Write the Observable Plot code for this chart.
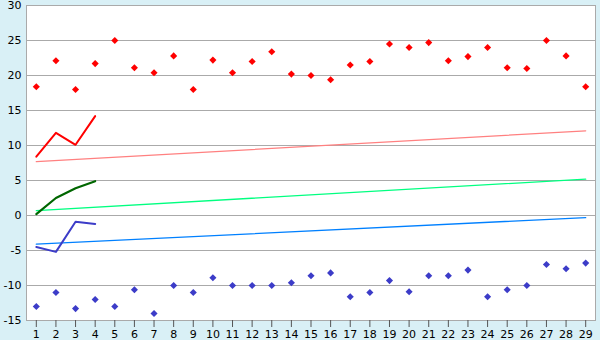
<!DOCTYPE html>
<html><head><meta charset="utf-8">
<script src="https://cdn.jsdelivr.net/npm/d3@7"></script>
<script src="https://cdn.jsdelivr.net/npm/@observablehq/plot@0.6"></script>
<style>html,body{margin:0;padding:0;background:#d9f0f6;}</style>
</head><body><div id="chart"></div>
<script>
const days = [1,2,3,4,5,6,7,8,9,10,11,12,13,14,15,16,17,18,19,20,21,22,23,24,25,26,27,28,29];
const yTicks = [-15,-10,-5,0,5,10,15,20,25,30];
const maxVals = [18.4,22.1,18.0,21.7,25.0,21.1,20.4,22.8,18.0,22.2,20.4,22.0,23.4,20.2,20.0,19.4,21.5,22.0,24.5,24.0,24.7,22.1,22.7,24.0,21.1,21.0,25.0,22.8,18.4];
const minVals = [-13.0,-11.0,-13.3,-12.0,-13.0,-10.6,-14.0,-10.0,-11.0,-8.9,-10.0,-10.0,-10.0,-9.6,-8.6,-8.2,-11.6,-11.0,-9.3,-10.9,-8.6,-8.6,-7.8,-11.6,-10.6,-10.0,-7.0,-7.6,-6.8];
const lineDays = [1,2,3,4];
const redLine = [8.4,11.8,10.1,14.2];
const greenLine = [0.2,2.5,3.9,4.9];
const blueLine = [-4.5,-5.2,-0.9,-1.2];
const trendDays = [1,29];
const redTrend = [7.7,12.1];
const greenTrend = [0.7,5.2];
const blueTrend = [-4.1,-0.3];

const pts = (xs, ys) => xs.map((x,i)=>({x, y: ys[i]}));

const chart = Plot.plot({
  width: 600, height: 340,
  marginLeft: 26, marginRight: 5, marginTop: 5, marginBottom: 20,
  style: {background: "#d9f0f6", fontFamily: "DejaVu Sans, Verdana, sans-serif", fontSize: "11px", color: "#000"},
  x: {domain: [0.5, 29.5], label: null},
  y: {domain: [-15, 30], label: null},
  marks: [
    Plot.frame({fill: "white"}),
    Plot.gridY(yTicks, {stroke: "#aaaaaa", strokeOpacity: 1}),
    Plot.frame({stroke: "#aaaaaa"}),
    Plot.line(pts(trendDays, redTrend), {x: "x", y: "y", stroke: "#ff8080", strokeWidth: 1.3}),
    Plot.line(pts(trendDays, greenTrend), {x: "x", y: "y", stroke: "#00ff80", strokeWidth: 1.3}),
    Plot.line(pts(trendDays, blueTrend), {x: "x", y: "y", stroke: "#0080ff", strokeWidth: 1.3}),
    Plot.line(pts(lineDays, redLine), {x: "x", y: "y", stroke: "#ff0000", strokeWidth: 2}),
    Plot.line(pts(lineDays, greenLine), {x: "x", y: "y", stroke: "#006600", strokeWidth: 2.2}),
    Plot.line(pts(lineDays, blueLine), {x: "x", y: "y", stroke: "#3c3cc8", strokeWidth: 2}),
    Plot.dot(pts(days, maxVals), {x: "x", y: "y", symbol: "diamond2", r: 3.2, fill: "#ff0000", stroke: "none"}),
    Plot.dot(pts(days, minVals), {x: "x", y: "y", symbol: "diamond2", r: 3.2, fill: "#3c3cc8", stroke: "none"}),
    Plot.axisY(yTicks, {tickSize: 0, tickPadding: 5, fontSize: 11, label: null, tickFormat: d => String(d)}),
    Plot.axisX(days, {tickSize: 7, tickPadding: 3, fontSize: 11, stroke: "#555", label: null, tickFormat: d => String(d)})
  ]
});
document.getElementById("chart").appendChild(chart);
</script>
</body></html>
